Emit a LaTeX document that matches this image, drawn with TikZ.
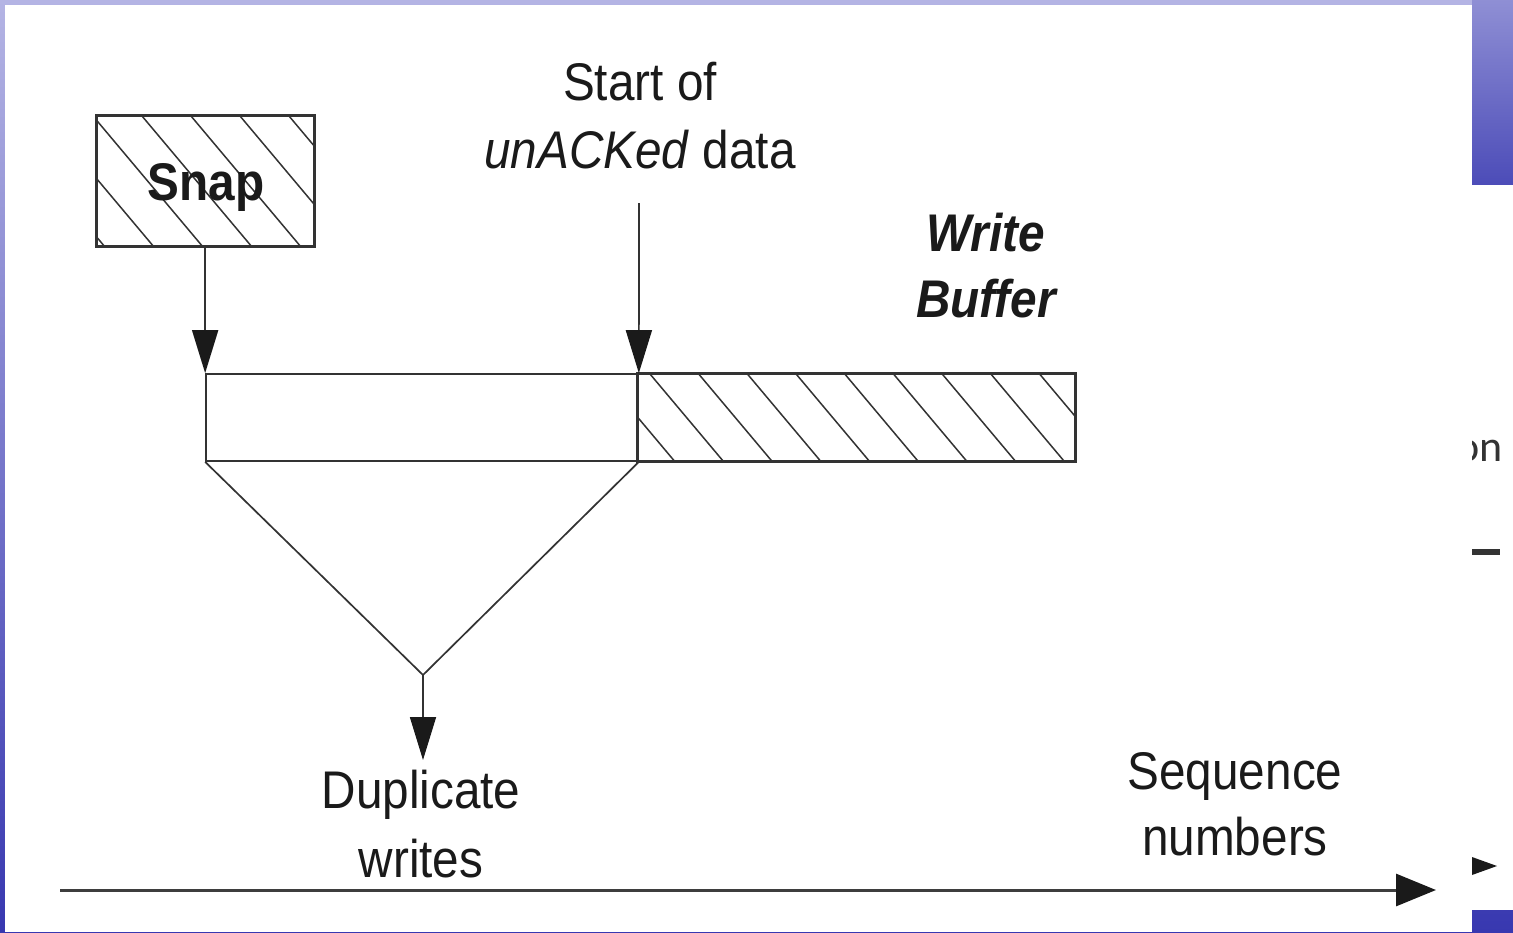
\documentclass[tikz,border=0pt]{standalone}
\usepackage{fontspec}
\setmainfont{Liberation Sans}[FakeStretch=0.9]
\newfontfamily\fragfont{Carlito}
\usetikzlibrary{arrows.meta}
\definecolor{ink}{HTML}{1A1A1A}
\definecolor{linec}{HTML}{333333}
\definecolor{bgtop}{HTML}{B4B4E4}
\definecolor{bgbot}{HTML}{3838B0}
\tikzset{
  box/.style={draw=linec, line width=1.7pt, rectangle, inner sep=0pt},
  hatch/.style={draw=linec, line width=1.5pt},
  arr/.style={draw=linec, line width=1.7pt, -{Triangle[length=43pt,width=26pt,fill=ink,color=ink]}},
  lbl/.style={text=ink, inner sep=0pt, anchor=base, font=\fontsize{53}{60}\selectfont},
}
\begin{document}
\begin{tikzpicture}[x=1pt,y=-1pt]
\useasboundingbox (0,0) rectangle (1513,932);
% slide background
\shade[top color=bgtop, bottom color=bgbot] (0,0) rectangle (1513,932);
\shade[top color=bgtop!70!bgbot, bottom color=bgbot!90!white] (1472,0) rectangle (1513,185);
\fill[white] (5,5) rectangle (1472,932);
\fill[white] (1472,185) rectangle (1513,910);
% fragments at right edge
\begin{scope}
\clip (1472,185) rectangle (1513,910);
\node[anchor=base east, inner sep=0pt, text=linec, font=\fragfont\fontsize{44}{50}\selectfont] (frag) at (1503,461) {on};
\end{scope}
\fill[linec] (1472,549) rectangle (1500,555);
\fill[ink] (1472,857) -- (1497,866) -- (1472,875) -- cycle;

% Snap box
\node[box, minimum width=217pt, minimum height=130pt] (snap) at (205.5,181) {};
\begin{scope}
\clip (97,116) rectangle (314,246);
\foreach \k in {-4,...,4} \draw[hatch] ({142+49*\k},116) -- ++(126,150);
\end{scope}
\draw[linec, line width=1.7pt] (snap.south west) rectangle (snap.north east);
\node[text=ink, inner sep=0pt, anchor=base, font=\fontsize{53}{60}\selectfont\bfseries] (snaptxt) at (206,200) {Snap};

% buffers
\node[box, minimum width=432pt, minimum height=87pt] (plain) at (422,417.5) {};
\node[box, minimum width=437pt, minimum height=87pt] (buf) at (856.5,417.5) {};
\begin{scope}
\clip (638,374) rectangle (1075,461);
\foreach \k in {-2,...,9} \draw[hatch] ({650+48.7*\k},374) -- ++(84,100);
\end{scope}
\draw[linec, line width=1.7pt] (buf.south west) rectangle (buf.north east);

% labels
\node[lbl] (start1) at (640,100) {Start of};
\node[lbl] (start2) at (640,168) {\textit{unACKed} data};
\node[lbl, font=\fontsize{53}{60}\selectfont\bfseries\itshape] (wb1) at (986,251) {Write};
\node[lbl, font=\fontsize{53}{60}\selectfont\bfseries\itshape] (wb2) at (986,317) {Buffer};
\node[lbl] (dup1) at (421,808) {Duplicate};
\node[lbl] (dup2) at (421,877) {writes};
\node[lbl] (seq1) at (1235,789) {Sequence};
\node[lbl] (seq2) at (1235,855) {numbers};

% arrows
\coordinate (startc) at (639,203);
\coordinate (apex) at (423,675);
\coordinate (duptip) at (423,760);
\draw[arr] (snap.south -| plain.north west) -- (plain.north west);
\draw[arr] (startc) -- (plain.north east);
\draw[linec, line width=1.7pt, line join=miter] (plain.south west) -- (apex) -- (plain.south east);
\draw[arr] (apex) -- (duptip);

% axis
\coordinate (ax0) at (60,890);
\coordinate (ax1) at (1436,890);
\draw[draw=linec!85!gray, line width=3pt, -{Triangle[length=40pt,width=32pt,fill=ink,color=ink]}] (ax0) -- (ax1);
\end{tikzpicture}
\end{document}
